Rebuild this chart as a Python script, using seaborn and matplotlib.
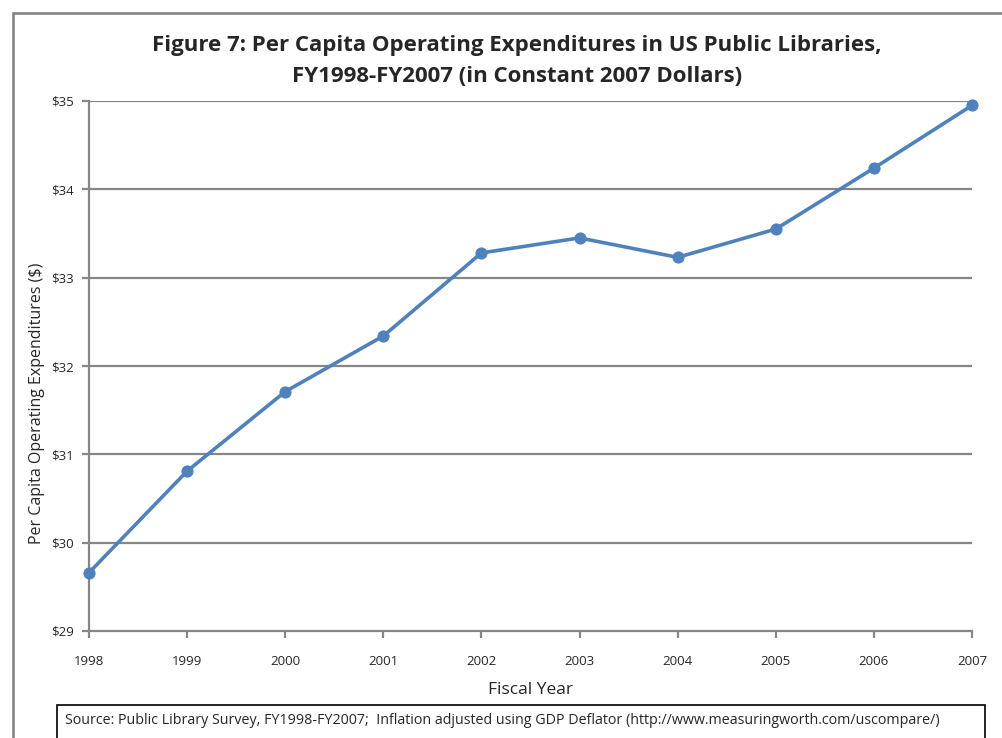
import matplotlib
matplotlib.use("Agg")
import matplotlib.pyplot as plt
import seaborn as sns
import pandas as pd
from matplotlib.patches import Rectangle
from matplotlib import font_manager

years = [1998, 1999, 2000, 2001, 2002, 2003, 2004, 2005, 2006, 2007]
expenditures = [29.66, 30.81, 31.71, 32.34, 33.28, 33.45, 33.23, 33.55, 34.24, 34.95]
y_ticks = [29, 30, 31, 32, 33, 34, 35]

sns.set_theme(style="white")
avail = {f.name for f in font_manager.fontManager.ttflist}
fam = [f for f in ["Liberation Sans Narrow", "Open Sans", "DejaVu Sans"] if f in avail]
plt.rcParams['font.family'] = fam

df = pd.DataFrame({"year": years, "value": expenditures})

fig = plt.figure(figsize=(10.03, 7.38), dpi=100)
ax = fig.add_axes([89/1003, 1-631/738, (972-89)/1003, (631-101)/738])

grid_c = "#868686"
for yt in y_ticks[1:]:
    ax.axhline(yt, color=grid_c, lw=1.6, zorder=1)

sns.lineplot(data=df, x="year", y="value", ax=ax, color="#4F81BD", lw=2.6,
             marker="o", markersize=8, markeredgecolor="#4F81BD", zorder=3, clip_on=False)

ax.set_xlim(1998, 2007)
ax.set_ylim(29, 35)
ax.set_xticks(years)
ax.set_xticklabels([str(y) for y in years], fontsize=9.5)
ax.set_yticks(y_ticks)
ax.set_yticklabels([f"${v}" for v in y_ticks], fontsize=9.5)
ax.tick_params(axis='both', which='both', direction='out', length=5, width=1.6,
               color=grid_c, left=True, bottom=True)
ax.tick_params(axis='x', pad=12)
ax.tick_params(axis='y', pad=6)
for s in ["top", "right"]:
    ax.spines[s].set_visible(False)
for s in ["left", "bottom"]:
    ax.spines[s].set_color(grid_c)
    ax.spines[s].set_linewidth(1.6)

ax.set_xlabel("Fiscal Year", fontsize=12.5, labelpad=10)
ax.set_ylabel("Per Capita Operating Expenditures ($)", fontsize=11.5)
ax.yaxis.set_label_coords(-0.050, 0.43)

fig.text(517/1003, 1-45/738, "Figure 7: Per Capita Operating Expenditures in US Public Libraries,",
         ha="center", va="center", fontsize=16, fontweight="bold")
fig.text(517/1003, 1-77/738, "FY1998-FY2007 (in Constant 2007 Dollars)",
         ha="center", va="center", fontsize=16, fontweight="bold")

# outer chart frame
fig.patches.append(Rectangle((13/1003, -0.1), 1.2, 1-13/738+0.1, transform=fig.transFigure,
                             fill=False, edgecolor="#7f7f7f", lw=1.8, zorder=0))
# source box
fig.patches.append(Rectangle((57/1003, -0.1), (985-57)/1003, 1-705/738+0.1, transform=fig.transFigure,
                             fill=False, edgecolor="black", lw=1.2, zorder=5))
fig.text(65/1003, 1-720/738,
         "Source: Public Library Survey, FY1998-FY2007;  Inflation adjusted using GDP Deflator (http://www.measuringworth.com/uscompare/)",
         ha="left", va="center", fontsize=10.3)

fig.savefig("out.png", dpi=100)
